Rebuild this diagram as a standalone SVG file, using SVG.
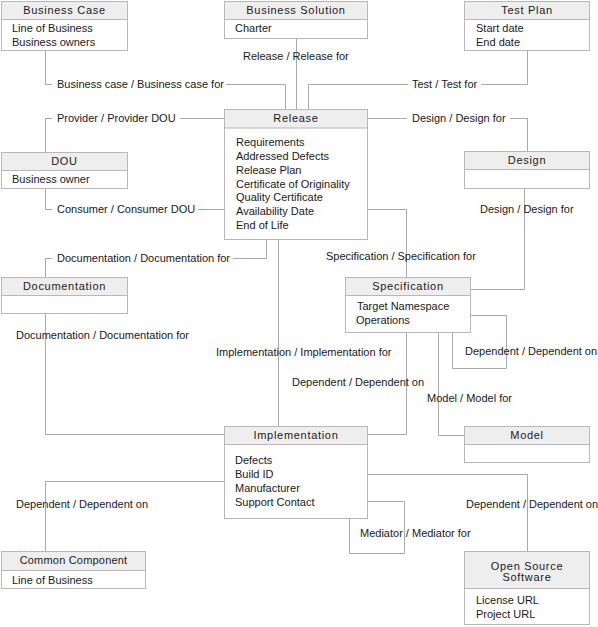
<svg xmlns="http://www.w3.org/2000/svg" width="598" height="627" viewBox="0 0 598 627">
<style>
.box{fill:#fff;stroke:#b8b8b8;stroke-width:1}
.hdr{fill:#eeeeee;stroke:#b8b8b8;stroke-width:1}
.ht{font-family:"Liberation Sans",Arial,sans-serif;font-size:11px;fill:#1a1a1a;text-anchor:middle;letter-spacing:0.7px}
.bt{font-family:"Liberation Sans",Arial,sans-serif;font-size:11px;fill:#1a1a1a}
.lbl{font-family:"Liberation Sans",Arial,sans-serif;font-size:11px;fill:#1a1a1a}
.ln{fill:none;stroke:#aaaaaa;stroke-width:1}
</style>
<rect width="598" height="627" fill="#fff"/>
<g id="connectors">
<polyline class="ln" points="45.5,50 45.5,84.5 52,84.5"/>
<polyline class="ln" points="226,84.5 285.5,84.5 285.5,109"/>
<line class="ln" x1="296.5" y1="38" x2="296.5" y2="109"/>
<polyline class="ln" points="527.5,50 527.5,84.5 481,84.5"/>
<polyline class="ln" points="408,84.5 308.5,84.5 308.5,109"/>
<polyline class="ln" points="224,118.5 180,118.5"/>
<polyline class="ln" points="52,118.5 45.5,118.5 45.5,152"/>
<polyline class="ln" points="368,118.5 407,118.5"/>
<polyline class="ln" points="510,118.5 527.5,118.5 527.5,151"/>
<polyline class="ln" points="45.5,188 45.5,209.5 52,209.5"/>
<polyline class="ln" points="198,209.5 224,209.5"/>
<polyline class="ln" points="524.5,188 524.5,289.5 470,289.5"/>
<polyline class="ln" points="266.5,239 266.5,258.5 233,258.5"/>
<polyline class="ln" points="52,258.5 45.5,258.5 45.5,277"/>
<polyline class="ln" points="368,209.5 406.5,209.5 406.5,277"/>
<polyline class="ln" points="45.5,313 45.5,434.5 224,434.5"/>
<polyline class="ln" points="470,315.5 506.5,315.5 506.5,368.5 452.5,368.5 452.5,332"/>
<line class="ln" x1="278.5" y1="239" x2="278.5" y2="426"/>
<polyline class="ln" points="406.5,332 406.5,434.5 368,434.5"/>
<polyline class="ln" points="438.5,332 438.5,435.5 464,435.5"/>
<polyline class="ln" points="224,481.5 45.5,481.5 45.5,551"/>
<polyline class="ln" points="368,474.5 527.5,474.5 527.5,551"/>
<polyline class="ln" points="368,501.5 404.5,501.5 404.5,553.5 349.5,553.5 349.5,518"/>
<text class="lbl" x="57" y="88">Business case / Business case for</text>
<text class="lbl" x="243" y="60">Release / Release for</text>
<text class="lbl" x="412" y="88">Test / Test for</text>
<text class="lbl" x="57" y="122">Provider / Provider DOU</text>
<text class="lbl" x="412" y="122">Design / Design for</text>
<text class="lbl" x="57" y="213">Consumer / Consumer DOU</text>
<text class="lbl" x="480" y="213">Design / Design for</text>
<text class="lbl" x="57" y="262">Documentation / Documentation for</text>
<text class="lbl" x="326" y="260">Specification / Specification for</text>
<text class="lbl" x="16" y="339">Documentation / Documentation for</text>
<text class="lbl" x="465" y="355">Dependent / Dependent on</text>
<text class="lbl" x="216" y="356">Implementation / Implementation for</text>
<text class="lbl" x="292" y="386">Dependent / Dependent on</text>
<text class="lbl" x="427" y="402">Model / Model for</text>
<text class="lbl" x="16" y="508">Dependent / Dependent on</text>
<text class="lbl" x="466" y="508">Dependent / Dependent on</text>
<text class="lbl" x="360" y="537">Mediator / Mediator for</text>
</g>
<g id="business-case">
<rect class="box" x="1.5" y="1.5" width="126" height="49"/>
<rect class="hdr" x="1.5" y="1.5" width="126" height="18"/>
<text class="ht" x="64.5" y="14">Business Case</text>
<text class="bt" x="12" y="32">Line of Business</text>
<text class="bt" x="12" y="46">Business owners</text>
</g>
<g id="business-solution">
<rect class="box" x="224.5" y="1.5" width="143" height="37"/>
<rect class="hdr" x="224.5" y="1.5" width="143" height="18"/>
<text class="ht" x="296" y="14">Business Solution</text>
<text class="bt" x="235" y="32">Charter</text>
</g>
<g id="test-plan">
<rect class="box" x="464.5" y="1.5" width="125" height="49"/>
<rect class="hdr" x="464.5" y="1.5" width="125" height="18"/>
<text class="ht" x="527" y="14">Test Plan</text>
<text class="bt" x="476" y="32">Start date</text>
<text class="bt" x="476" y="46">End date</text>
</g>
<g id="release">
<rect class="box" x="224.5" y="109.5" width="143" height="130"/>
<rect class="hdr" x="224.5" y="109.5" width="143" height="18.5"/>
<text class="ht" x="296" y="122">Release</text>
<text class="bt" x="236" y="146">Requirements</text>
<text class="bt" x="236" y="160">Addressed Defects</text>
<text class="bt" x="236" y="174">Release Plan</text>
<text class="bt" x="236" y="188">Certificate of Originality</text>
<text class="bt" x="236" y="201">Quality Certificate</text>
<text class="bt" x="236" y="215">Availability Date</text>
<text class="bt" x="236" y="229">End of Life</text>
</g>
<g id="dou">
<rect class="box" x="1.5" y="152.5" width="126" height="36"/>
<rect class="hdr" x="1.5" y="152.5" width="126" height="18"/>
<text class="ht" x="64.5" y="165">DOU</text>
<text class="bt" x="12" y="183">Business owner</text>
</g>
<g id="design">
<rect class="box" x="464.5" y="151.5" width="125" height="37"/>
<rect class="hdr" x="464.5" y="151.5" width="125" height="18"/>
<text class="ht" x="527" y="164">Design</text>
</g>
<g id="documentation">
<rect class="box" x="1.5" y="277.5" width="126" height="36"/>
<rect class="hdr" x="1.5" y="277.5" width="126" height="18"/>
<text class="ht" x="64.5" y="290">Documentation</text>
</g>
<g id="specification">
<rect class="box" x="345.5" y="277.5" width="125" height="55"/>
<rect class="hdr" x="345.5" y="277.5" width="125" height="18"/>
<text class="ht" x="408" y="290">Specification</text>
<text class="bt" x="357" y="310">Target Namespace</text>
<text class="bt" x="356" y="324">Operations</text>
</g>
<g id="model">
<rect class="box" x="464.5" y="426.5" width="125" height="36"/>
<rect class="hdr" x="464.5" y="426.5" width="125" height="18"/>
<text class="ht" x="527" y="439">Model</text>
</g>
<g id="implementation">
<rect class="box" x="224.5" y="426.5" width="143" height="92"/>
<rect class="hdr" x="224.5" y="426.5" width="143" height="18"/>
<text class="ht" x="296" y="439">Implementation</text>
<text class="bt" x="235" y="464">Defects</text>
<text class="bt" x="235" y="478">Build ID</text>
<text class="bt" x="235" y="492">Manufacturer</text>
<text class="bt" x="235" y="506">Support Contact</text>
</g>
<g id="common-component">
<rect class="box" x="1.5" y="551.5" width="144" height="37"/>
<rect class="hdr" x="1.5" y="551.5" width="144" height="19"/>
<text class="ht" x="73.5" y="564" style="letter-spacing:0.2px">Common Component</text>
<text class="bt" x="12" y="584">Line of Business</text>
</g>
<g id="open-source-software">
<rect class="box" x="464.5" y="551.5" width="125" height="73"/>
<rect class="hdr" x="464.5" y="551.5" width="125" height="37"/>
<text class="ht" x="527" y="570">Open Source</text>
<text class="ht" x="527" y="581">Software</text>
<text class="bt" x="476" y="604">License URL</text>
<text class="bt" x="476" y="618">Project URL</text>
</g>
</svg>
